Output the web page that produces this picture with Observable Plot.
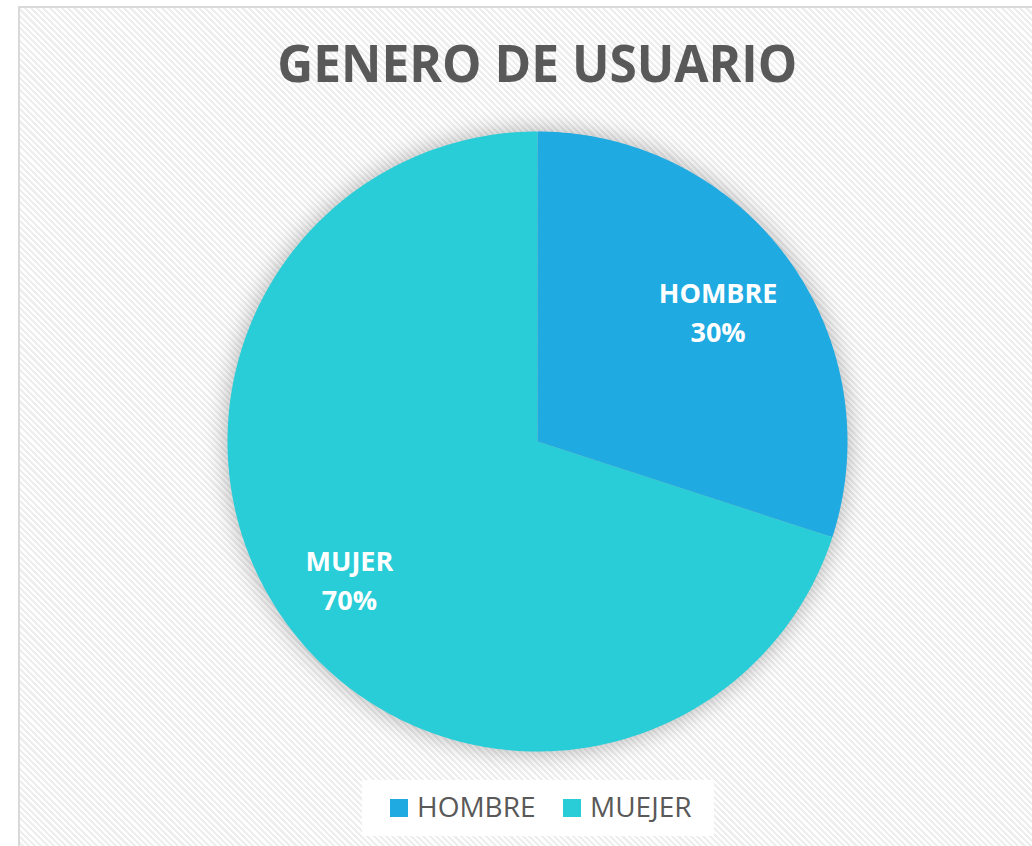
<!DOCTYPE html>
<html><head><meta charset="utf-8">
<script src="https://cdn.jsdelivr.net/npm/d3@7"></script>
<script src="https://cdn.jsdelivr.net/npm/@observablehq/plot@0.6"></script>
<style>
html,body{margin:0;padding:0;width:1032px;height:846px;overflow:hidden;background:#fff;font-family:"Open Sans",sans-serif;}
#frame{position:absolute;left:18px;top:6px;width:1100px;height:900px;border:2px solid #d9d9d9;box-sizing:border-box;
  background:repeating-linear-gradient(45deg,#ffffff 0px,#ffffff 2.2px,#eeeeee 2.2px,#eeeeee 4.4px);}
#title{position:absolute;left:0;width:1074px;top:36px;text-align:center;font-size:52px;line-height:1;font-weight:700;color:#595959;white-space:nowrap;}
#title span{display:inline-block;transform-origin:center;}
#chart{position:absolute;left:187px;top:91px;width:700px;height:700px;}
#chart svg{overflow:visible;}
#chart g[aria-label="line"]{filter:drop-shadow(0 0 12px rgba(0,0,0,0.3));}
#legend{position:absolute;left:362px;top:780px;width:352px;height:56px;background:#fff;}
.li{position:absolute;top:12px;font-size:28px;line-height:1;color:#595959;white-space:nowrap;}
.sw{position:absolute;width:18px;height:18px;}
</style></head>
<body>
<div id="frame"></div>
<div id="title"><span>GENERO DE USUARIO</span></div>
<div id="chart"></div>
<div id="legend"></div>
<script>
const categories = ["HOMBRE", "MUJER"];
const values = [30, 70];
const sliceLabels = ["HOMBRE\n30%", "MUJER\n70%"];
const legendLabels = ["HOMBRE", "MUEJER"];
const colors = ["#1FAAE1", "#29CDD7"];

const pieData = categories.map((c, i) => ({name: c, value: values[i], label: sliceLabels[i]}));
const arcs = d3.pie().sort(null).value(d => d.value)(pieData);
const pts = [];
arcs.forEach(a => {
  pts.push({name: a.data.name, x: 0, y: 0});
  const n = 240;
  for (let k = 0; k <= n; k++) {
    const t = a.startAngle + (a.endAngle - a.startAngle) * k / n;
    pts.push({name: a.data.name, x: Math.sin(t), y: Math.cos(t)});
  }
  pts.push({name: a.data.name, x: 0, y: 0});
});
const labelR = [0.72, 0.75];
const labelPts = arcs.map((a, i) => {
  const m = (a.startAngle + a.endAngle) / 2;
  return {name: a.data.name, label: a.data.label, x: labelR[i] * Math.sin(m), y: labelR[i] * Math.cos(m)};
});
const D = 350 / 310;
const chart = Plot.plot({
  width: 700, height: 700, margin: 0,
  x: {domain: [-D, D], axis: null},
  y: {domain: [-D, D], axis: null},
  color: {domain: categories, range: colors},
  style: {background: "transparent", overflow: "visible", fontFamily: "Open Sans"},
  marks: [
    Plot.line(pts, {x: "x", y: "y", z: "name", fill: "name", stroke: null, curve: "linear"}),
    Plot.text(labelPts, {x: "x", y: "y", text: "label", fill: "white", fontSize: 27, fontWeight: "bold", lineHeight: 1.45})
  ]
});
document.getElementById("chart").appendChild(chart);

const leg = document.getElementById("legend");
const swX = [28, 201];
legendLabels.forEach((l, i) => {
  const s = document.createElement("div");
  s.className = "sw"; s.style.left = swX[i] + "px"; s.style.top = "19px"; s.style.background = colors[i];
  leg.appendChild(s);
  const t = document.createElement("div");
  t.className = "li"; t.style.left = (swX[i] + 27) + "px"; t.textContent = l;
  leg.appendChild(t);
});

const sp = document.querySelector("#title span");
const w = sp.getBoundingClientRect().width;
sp.style.transform = `scaleX(${520 / w})`;
</script>
</body></html>
